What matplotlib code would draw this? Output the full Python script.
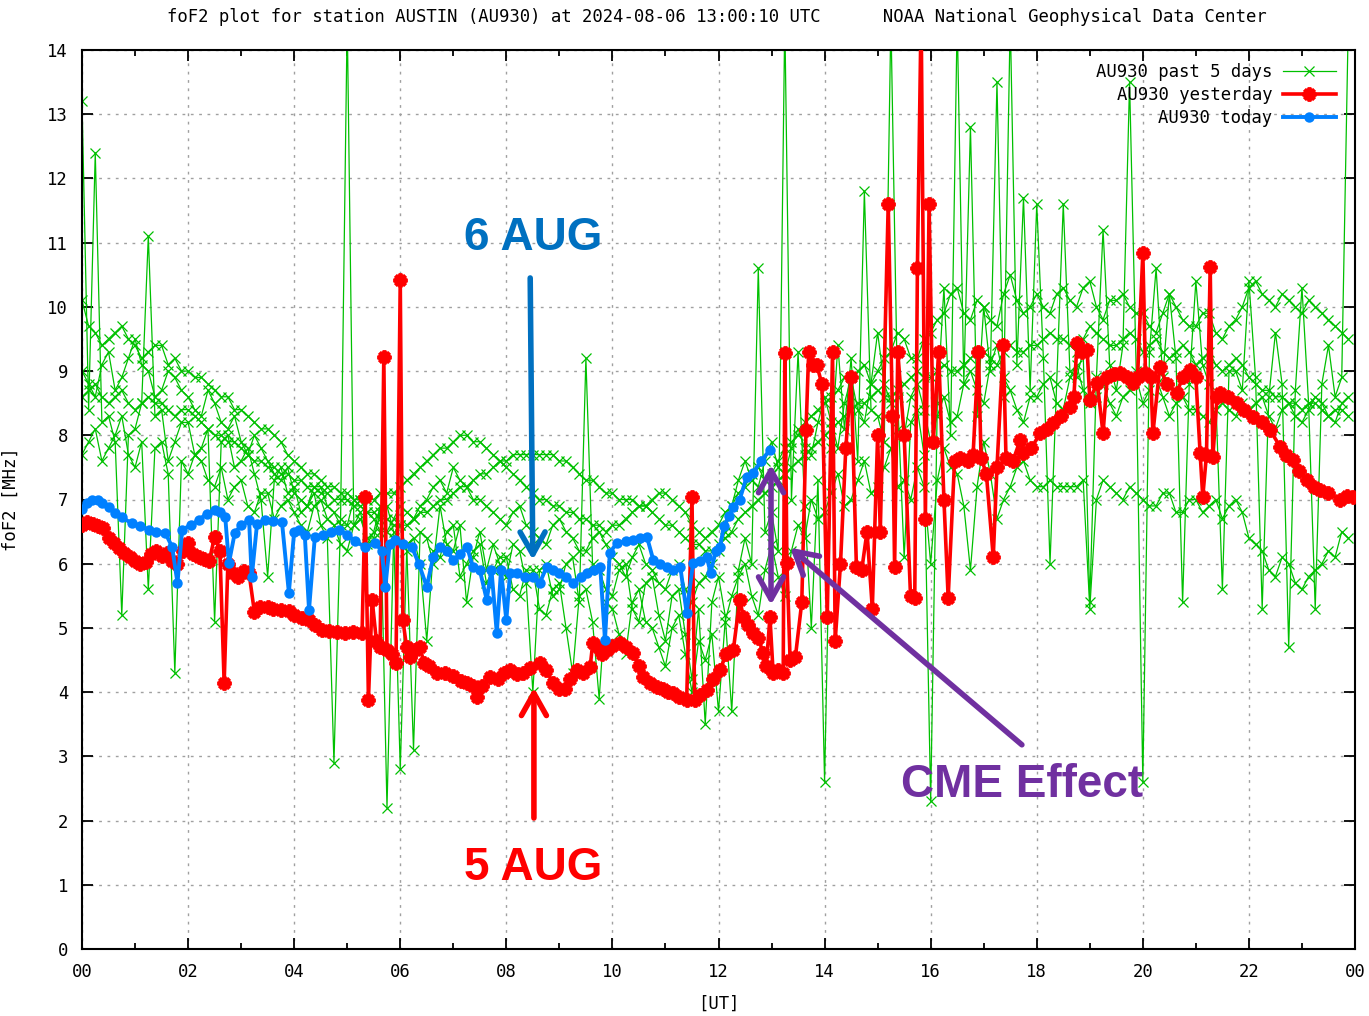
import numpy as np
import matplotlib
matplotlib.use("Agg")
import matplotlib.pyplot as plt

plt.rcParams['font.family'] = ['DejaVu Sans Mono']

# ---- past 5 days (7.5 min samples) ----
hours_7min = np.arange(192) * 0.125

day_a = [10.1, 9.7, 9.6, 9.4, 9.5, 9.6, 9.7, 9.5, 9.4, 9.2, 9.3, 9.4, 9.4, 9.1, 9.2, 9.0,
         9.0, 8.9, 8.9, 8.8, 8.7, 8.6, 8.6, 8.4, 8.4, 8.3, 8.2, 8.1, 8.1, 8.0, 7.9, 7.7,
         7.6, 7.5, 7.4, 7.4, 7.3, 7.2, 7.2, 7.1, 7.1, 7.0, 7.0, 7.0, 7.0, 7.1, 7.1, 7.1,
         7.2, 7.3, 7.4, 7.5, 7.6, 7.7, 7.8, 7.8, 7.9, 8.0, 8.0, 7.9, 7.9, 7.8, 7.7, 7.6,
         7.5, 7.4, 7.3, 7.2, 7.1, 7.0, 7.0, 6.9, 6.9, 6.8, 6.8, 6.7, 6.7, 6.6, 6.6, 6.5,
         6.6, 6.6, 6.7, 6.8, 6.9, 6.9, 7.0, 7.1, 7.1, 7.0, 6.9, 6.8, 6.6, 6.5, 6.4, 6.5,
         6.6, 6.8, 6.9, 7.1, 7.2, 7.4, 7.5, 7.3, 7.4, 7.6, 7.8, 7.9, 8.0, 8.2, 8.3, 8.4,
         8.5, 8.6, 8.7, 8.9, 8.9, 9.0, 9.1, 8.8, 9.0, 9.2, 9.3, 9.6, 9.5, 9.2, 9.2, 9.5,
         9.6, 9.8, 9.9, 10.2, 10.3, 9.9, 9.8, 10.1, 10.0, 9.8, 9.7, 10.2, 10.5, 10.1, 9.9, 10.0,
         10.2, 10.0, 9.9, 10.2, 10.3, 10.1, 10.0, 10.3, 10.4, 10.0, 9.8, 10.1, 10.1, 10.2, 10.0, 9.9,
         9.9, 9.7, 9.6, 9.9, 10.2, 10.0, 9.8, 9.7, 9.7, 9.9, 9.9, 9.6, 9.5, 9.7, 9.8, 10.0,
         10.3, 10.4, 10.2, 10.1, 10.0, 10.2, 10.1, 10.0, 9.9, 10.1, 10.0, 9.9, 9.8, 9.7, 9.6, 9.5]

day_b = [8.6, 8.7, 8.8, 8.6, 8.5, 8.6, 8.7, 8.5, 8.4, 8.5, 8.6, 8.5, 8.5, 8.4, 8.3, 8.4,
         8.4, 8.3, 8.2, 8.1, 8.0, 8.0, 7.9, 7.9, 7.8, 7.7, 7.6, 7.6, 7.5, 7.5, 7.4, 7.4,
         7.3, 7.3, 7.2, 7.2, 7.1, 7.1, 7.0, 7.0, 7.0, 6.9, 6.9, 6.8, 6.8, 6.7, 6.7, 6.6,
         6.6, 6.6, 6.7, 6.8, 6.8, 6.9, 7.0, 7.0, 7.1, 7.2, 7.2, 7.3, 7.4, 7.4, 7.5, 7.6,
         7.6, 7.7, 7.7, 7.7, 7.7, 7.7, 7.7, 7.7, 7.6, 7.6, 7.5, 7.4, 7.3, 7.3, 7.2, 7.1,
         7.1, 7.0, 7.0, 7.0, 6.9, 6.9, 6.8, 6.7, 6.6, 6.6, 6.5, 6.4, 6.3, 6.3, 6.2, 6.2,
         6.3, 6.4, 6.5, 6.7, 6.8, 6.9, 7.0, 7.1, 7.2, 7.3, 7.4, 7.5, 7.6, 7.7, 7.8, 7.9,
         8.0, 8.1, 8.2, 8.3, 8.4, 8.5, 8.5, 8.6, 8.7, 8.6, 8.6, 8.7, 8.8, 8.9, 9.0, 8.9,
         8.9, 9.0, 9.1, 9.0, 9.0, 9.1, 9.2, 9.3, 9.3, 9.2, 9.1, 9.3, 9.4, 9.3, 9.3, 9.4,
         9.4, 9.5, 9.6, 9.5, 9.5, 9.4, 9.3, 9.5, 9.7, 9.6, 9.5, 9.4, 9.4, 9.5, 9.6, 9.5,
         9.3, 9.4, 9.5, 9.3, 9.2, 9.3, 9.4, 9.3, 9.1, 9.2, 9.3, 9.1, 9.0, 9.1, 9.2, 9.1,
         8.9, 8.8, 8.7, 8.7, 8.6, 8.6, 8.5, 8.5, 8.4, 8.5, 8.5, 8.4, 8.3, 8.4, 8.4, 8.3]

day_c = [13.2, 8.4, 12.4, 8.2, 8.3, 7.9, 5.2, 8.0, 8.1, 8.5, 11.1, 8.3, 8.4, 7.6, 7.9, 8.2,
         8.2, 7.7, 7.8, 8.1, 5.1, 7.9, 8.0, 7.5, 7.6, 7.8, 7.4, 7.0, 5.8, 7.3, 7.5, 7.1,
         7.2, 6.8, 6.9, 7.1, 6.6, 6.4, 2.9, 6.7, 14.5, 6.6, 6.8, 6.3, 6.5, 6.9, 2.2, 6.4,
         6.6, 6.2, 3.1, 6.5, 6.4, 6.0, 6.9, 6.3, 6.2, 6.6, 5.4, 6.1, 6.5, 5.9, 6.3, 6.0,
         5.8, 6.3, 6.2, 5.7, 4.0, 5.9, 6.0, 5.5, 5.6, 6.0, 6.1, 5.4, 9.2, 6.0, 5.9, 5.6,
         5.5, 5.9, 6.0, 5.3, 5.1, 5.7, 5.8, 5.2, 4.8, 5.5, 5.6, 4.9, 4.2, 5.3, 3.5, 5.4,
         5.8, 5.2, 3.7, 5.9, 6.4, 6.0, 10.6, 6.5, 6.8, 6.2, 14.5, 7.0, 9.3, 6.9, 5.0, 7.3,
         2.6, 7.8, 9.4, 8.1, 9.2, 7.6, 11.8, 8.4, 8.3, 7.9, 14.5, 8.6, 6.1, 8.2, 8.4, 7.7,
         2.3, 8.5, 10.3, 8.0, 14.5, 8.8, 12.8, 8.3, 10.0, 9.0, 13.5, 8.6, 14.5, 9.1, 11.7, 8.7,
         11.6, 9.2, 6.0, 8.8, 11.6, 9.0, 8.9, 9.3, 5.4, 8.9, 11.2, 9.1, 8.7, 9.4, 13.5, 9.0,
         2.6, 9.3, 10.6, 8.9, 10.2, 9.2, 5.4, 8.8, 10.4, 9.1, 8.8, 8.6, 5.6, 9.0, 9.0, 8.7,
         10.4, 8.9, 5.3, 8.6, 9.6, 8.8, 4.7, 8.7, 10.3, 8.5, 5.3, 8.8, 9.4, 8.6, 8.9, 14.5]

day_d = [7.7, 7.9, 8.1, 7.6, 7.8, 8.0, 8.3, 7.7, 7.5, 7.9, 5.6, 7.8, 7.9, 7.4, 4.3, 7.6,
         7.4, 7.7, 7.6, 7.3, 7.2, 7.5, 7.0, 7.2, 7.3, 6.9, 6.8, 7.1, 7.1, 6.7, 6.9, 7.0,
         6.8, 6.6, 6.5, 6.9, 7.0, 6.7, 6.6, 6.3, 6.2, 6.6, 6.7, 6.4, 6.4, 6.8, 6.9, 6.5,
         2.8, 6.3, 6.4, 6.0, 4.8, 6.2, 6.1, 6.5, 6.6, 5.8, 6.0, 6.2, 6.3, 5.7, 5.9, 6.1,
         6.1, 5.6, 5.5, 5.9, 5.9, 5.3, 5.2, 5.6, 5.7, 5.0, 4.3, 5.5, 5.6, 5.1, 3.9, 5.4,
         5.3, 4.9, 4.6, 5.4, 5.6, 5.1, 5.0, 4.7, 4.4, 5.0, 5.2, 4.6, 4.0, 4.8, 4.5, 4.9,
         3.7, 5.1, 5.5, 5.8, 6.0, 5.5, 5.2, 5.9, 6.3, 5.8, 5.5, 6.2, 6.6, 6.4, 7.0, 6.7,
         6.8, 7.1, 7.4, 6.9, 7.0, 7.3, 7.6, 7.1, 7.2, 7.5, 7.8, 7.2, 7.3, 7.0, 7.5, 7.2,
         6.0, 7.3, 7.8, 7.5, 7.4, 6.9, 5.9, 7.2, 7.9, 7.4, 6.7, 7.0, 7.2, 7.5, 7.6, 7.3,
         7.2, 7.2, 7.3, 7.2, 7.2, 7.2, 7.2, 7.3, 5.3, 7.0, 7.3, 7.2, 7.1, 7.0, 7.2, 7.1,
         7.0, 6.9, 6.9, 7.1, 7.1, 6.8, 6.8, 7.0, 7.0, 6.8, 6.9, 7.0, 6.7, 6.9, 7.0, 6.8,
         6.4, 6.3, 6.2, 5.9, 5.8, 6.1, 6.0, 5.7, 5.6, 5.8, 5.9, 6.0, 6.2, 6.1, 6.5, 6.4]

day_e = [9.0, 8.8, 8.6, 9.1, 9.3, 8.7, 8.9, 9.2, 9.5, 9.1, 9.0, 8.6, 8.7, 9.0, 8.9, 8.7,
         8.6, 8.4, 8.3, 8.7, 8.5, 8.2, 8.1, 8.3, 7.9, 7.7, 8.0, 7.8, 7.6, 7.4, 7.3, 7.5,
         7.1, 7.0, 6.9, 7.2, 7.2, 6.9, 6.8, 6.6, 6.6, 7.0, 7.0, 6.8, 6.7, 6.5, 6.5, 6.7,
         6.9, 6.8, 6.7, 6.9, 7.0, 7.2, 7.3, 7.1, 7.5, 7.3, 7.2, 7.0, 7.0, 6.9, 6.8, 6.7,
         6.6, 6.8, 6.9, 6.6, 6.5, 6.4, 6.3, 6.6, 6.7, 6.5, 6.4, 6.2, 6.2, 6.4, 6.5, 6.3,
         6.1, 6.0, 5.8, 6.1, 6.3, 6.0, 5.9, 5.7, 5.6, 5.9, 6.0, 5.6, 5.4, 5.7, 5.8, 6.0,
         6.2, 6.5, 6.9, 7.3, 7.6, 7.3, 7.2, 7.6, 7.9, 7.5, 7.4, 7.8, 8.1, 7.8, 7.7, 8.2,
         8.6, 8.2, 7.8, 8.5, 8.9, 8.4, 8.2, 8.8, 9.6, 8.8, 8.5, 8.1, 8.0, 8.6, 8.8, 8.4,
         7.9, 8.3, 8.6, 8.2, 8.3, 8.8, 9.0, 8.7, 8.5, 9.1, 9.4, 8.9, 8.7, 8.4, 8.2, 8.6,
         8.6, 8.8, 8.9, 8.5, 8.4, 8.9, 9.1, 8.7, 8.5, 8.6, 8.8, 8.5, 8.3, 8.6, 8.7, 8.9,
         8.5, 8.7, 8.9, 8.6, 8.3, 8.5, 8.6, 8.4, 8.4, 8.3, 8.2, 8.4, 8.5, 8.4, 8.3, 8.5,
         8.4, 8.5, 8.6, 8.3, 8.1, 8.4, 8.5, 8.3, 8.2, 8.4, 8.6, 8.5, 8.3, 8.2, 8.5, 8.6]

past_days = [day_a, day_b, day_c, day_d, day_e]

# ---- yesterday (5 Aug) ----
red_t = [0.00, 0.10, 0.20, 0.30, 0.40, 0.50, 0.60, 0.70, 0.80, 0.90,
         1.00, 1.10, 1.20, 1.30, 1.40, 1.50, 1.60, 1.70, 1.80, 1.90,
         2.00, 2.10, 2.20, 2.30, 2.40, 2.50, 2.60, 2.68, 2.75, 2.85,
         2.95, 3.05, 3.15, 3.25, 3.35, 3.50, 3.60, 3.75, 3.90, 4.00,
         4.15, 4.28, 4.40, 4.52, 4.65, 4.80, 4.95, 5.10, 5.28, 5.34,
         5.40, 5.47, 5.55, 5.62, 5.69, 5.75, 5.85, 5.92, 6.00, 6.05,
         6.12, 6.18, 6.28, 6.37, 6.45, 6.55, 6.70, 6.85, 7.00, 7.15,
         7.26, 7.38, 7.45, 7.55, 7.69, 7.85, 7.95, 8.07, 8.20, 8.31,
         8.45, 8.63, 8.75, 8.88, 9.00, 9.10, 9.20, 9.33, 9.45, 9.58,
         9.63, 9.72, 9.80, 9.90, 10.00, 10.14, 10.25, 10.39, 10.50, 10.58,
         10.70, 10.84, 10.95, 11.05, 11.14, 11.25, 11.40, 11.50, 11.55, 11.65,
         11.78, 11.90, 12.03, 12.15, 12.28, 12.40, 12.47, 12.55, 12.65, 12.75,
         12.84, 12.90, 12.97, 13.03, 13.12, 13.22, 13.25, 13.29, 13.35, 13.45,
         13.57, 13.65, 13.70, 13.78, 13.85, 13.95, 14.05, 14.15, 14.20, 14.30,
         14.40, 14.50, 14.60, 14.70, 14.80, 14.90, 15.00, 15.05, 15.20, 15.28,
         15.32, 15.38, 15.50, 15.62, 15.70, 15.75, 15.82, 15.90, 15.97, 16.05,
         16.15, 16.25, 16.33, 16.45, 16.55, 16.70, 16.80, 16.90, 16.95, 17.05,
         17.18, 17.25, 17.37, 17.42, 17.55, 17.69, 17.75, 17.90, 18.06, 18.20,
         18.31, 18.45, 18.63, 18.70, 18.76, 18.85, 18.95, 19.00, 19.14, 19.25,
         19.33, 19.45, 19.57, 19.70, 19.81, 19.90, 20.00, 20.05, 20.15, 20.19,
         20.32, 20.45, 20.64, 20.75, 20.89, 21.00, 21.08, 21.13, 21.20, 21.27,
         21.32, 21.40, 21.46, 21.60, 21.78, 21.90, 22.08, 22.25, 22.40, 22.59,
         22.70, 22.83, 22.95, 23.10, 23.22, 23.34, 23.50, 23.72, 23.85, 23.96]
red_f = [6.60, 6.65, 6.62, 6.58, 6.55, 6.40, 6.32, 6.25, 6.17, 6.10,
         6.05, 6.00, 6.02, 6.15, 6.20, 6.12, 6.17, 6.05, 6.00, 6.20,
         6.32, 6.15, 6.10, 6.08, 6.05, 6.42, 6.20, 4.14, 6.00, 5.85,
         5.80, 5.88, 5.85, 5.25, 5.33, 5.33, 5.30, 5.28, 5.27, 5.20,
         5.15, 5.12, 5.05, 4.97, 4.95, 4.93, 4.92, 4.93, 4.92, 7.04,
         3.88, 5.44, 4.80, 4.70, 9.22, 4.66, 4.60, 4.45, 10.42, 5.12,
         4.70, 4.55, 4.65, 4.70, 4.45, 4.40, 4.30, 4.30, 4.25, 4.18,
         4.14, 4.10, 3.93, 4.10, 4.24, 4.20, 4.30, 4.35, 4.28, 4.30,
         4.38, 4.45, 4.35, 4.14, 4.05, 4.05, 4.20, 4.35, 4.30, 4.39,
         4.77, 4.70, 4.60, 4.66, 4.72, 4.77, 4.70, 4.61, 4.40, 4.24,
         4.15, 4.08, 4.05, 4.00, 3.99, 3.92, 3.88, 7.04, 3.88, 3.95,
         4.03, 4.20, 4.35, 4.60, 4.66, 5.44, 5.17, 5.05, 4.92, 4.85,
         4.61, 4.40, 5.17, 4.30, 4.35, 4.30, 9.28, 6.01, 4.50, 4.55,
         5.40, 8.08, 9.30, 9.10, 9.10, 8.80, 5.17, 9.30, 4.80, 6.00,
         7.80, 8.90, 5.95, 5.90, 6.50, 5.30, 8.00, 6.50, 11.60, 8.30,
         5.95, 9.30, 8.00, 5.50, 5.47, 10.60, 14.60, 6.70, 11.60, 7.90,
         9.30, 7.00, 5.47, 7.60, 7.65, 7.60, 7.70, 9.30, 7.65, 7.40,
         6.10, 7.50, 9.40, 7.65, 7.60, 7.93, 7.72, 7.80, 8.03, 8.10,
         8.19, 8.30, 8.44, 8.60, 9.44, 9.30, 9.33, 8.55, 8.82, 8.03,
         8.91, 8.95, 8.97, 8.90, 8.82, 8.90, 10.84, 8.97, 8.90, 8.03,
         9.07, 8.80, 8.66, 8.90, 9.02, 8.90, 7.72, 7.04, 7.70, 10.62,
         7.66, 8.60, 8.66, 8.60, 8.50, 8.40, 8.29, 8.20, 8.08, 7.82,
         7.70, 7.62, 7.45, 7.30, 7.20, 7.15, 7.10, 6.99, 7.05, 7.04]

# ---- today (6 Aug) ----
blue_t = [0.00, 0.10, 0.19, 0.30, 0.38, 0.50, 0.62, 0.75, 0.94, 1.10,
          1.26, 1.40, 1.57, 1.70, 1.80, 1.89, 2.05, 2.20, 2.35, 2.50,
          2.60, 2.70, 2.77, 2.88, 3.00, 3.15, 3.20, 3.30, 3.45, 3.60,
          3.77, 3.90, 4.00, 4.09, 4.20, 4.28, 4.39, 4.55, 4.70, 4.85,
          5.00, 5.15, 5.34, 5.53, 5.65, 5.72, 5.80, 5.90, 6.05, 6.22,
          6.35, 6.50, 6.62, 6.75, 6.88, 7.00, 7.13, 7.26, 7.37, 7.50,
          7.63, 7.72, 7.82, 7.90, 8.00, 8.07, 8.20, 8.35, 8.50, 8.63,
          8.76, 8.88, 9.00, 9.13, 9.26, 9.40, 9.52, 9.65, 9.77, 9.86,
          9.95, 10.08, 10.25, 10.39, 10.52, 10.65, 10.77, 10.90, 11.03, 11.15,
          11.28, 11.40, 11.52, 11.65, 11.78, 11.85, 11.95, 12.03, 12.10, 12.20,
          12.28, 12.40, 12.53, 12.65, 12.80, 12.97]
blue_f = [6.85, 6.95, 6.99, 7.00, 6.95, 6.88, 6.79, 6.72, 6.63, 6.58,
          6.53, 6.50, 6.48, 6.26, 5.70, 6.53, 6.60, 6.68, 6.78, 6.84,
          6.80, 6.73, 6.01, 6.48, 6.60, 6.68, 5.79, 6.62, 6.68, 6.66,
          6.65, 5.55, 6.50, 6.53, 6.45, 5.28, 6.42, 6.45, 6.50, 6.53,
          6.45, 6.35, 6.26, 6.32, 6.20, 5.64, 6.30, 6.37, 6.30, 6.26,
          6.00, 5.64, 6.10, 6.26, 6.20, 6.06, 6.15, 6.26, 5.95, 5.90,
          5.44, 5.90, 4.92, 5.90, 5.12, 5.86, 5.85, 5.80, 5.79, 5.70,
          5.95, 5.90, 5.86, 5.80, 5.70, 5.80, 5.86, 5.90, 5.95, 4.81,
          6.17, 6.32, 6.35, 6.37, 6.40, 6.42, 6.06, 6.00, 5.95, 5.90,
          5.95, 5.23, 6.01, 6.05, 6.10, 5.86, 6.20, 6.26, 6.58, 6.75,
          6.88, 7.00, 7.35, 7.41, 7.60, 7.77]

x_tick_labels = ["00", "02", "04", "06", "08", "10", "12",
                 "14", "16", "18", "20", "22", "00"]

title = ("foF2 plot for station AUSTIN (AU930) at 2024-08-06 13:00:10 UTC"
         "      NOAA National Geophysical Data Center")

GREEN = "#00c000"
RED = "#ff0000"
BLUE = "#0080ff"
FS = 12.4

fig = plt.figure(figsize=(13.69, 10.16), dpi=100)
ax = fig.add_axes([82 / 1369, 1 - 949 / 1016, 1273 / 1369, 899 / 1016])

green_lines = []
for day in past_days:
    ln, = ax.plot(hours_7min, day, color=GREEN, lw=0.9, marker="x", ms=7,
                  mew=0.9, zorder=2)
    green_lines.append(ln)

red_ln, = ax.plot(red_t, red_f, color=RED, lw=2.6, marker=(8, 2, 0), ms=10,
                  mew=2.8, zorder=3)
blue_ln, = ax.plot(blue_t, blue_f, color=BLUE, lw=2.8, marker="o", ms=7.5,
                   mew=0, zorder=4)

ax.set_xlim(0, 24)
ax.set_ylim(0, 14)
ax.set_xticks(np.arange(0, 25, 2))
ax.set_xticklabels(x_tick_labels)
ax.set_xticks(np.arange(1, 24, 2), minor=True)
ax.set_yticks(range(15))
ax.tick_params(which="major", direction="in", top=True, right=True,
               length=8, width=1.3, labelsize=FS, pad=10)
ax.tick_params(which="minor", direction="in", top=True, right=True,
               length=4.5, width=1.3)
ax.grid(True, which="major", color="#a0a0a0", linestyle=(0, (2, 4)), lw=1)
for sp in ax.spines.values():
    sp.set_linewidth(1.5)

fig.text(717 / 1369, 1 - 17 / 1016, title, ha="center", va="center",
         fontsize=FS)
ax.set_ylabel("foF2 [MHz]", fontsize=FS)
ax.yaxis.set_label_coords(-62 / 1273, 0.5)
ax.set_xlabel("[UT]", fontsize=FS)
ax.xaxis.set_label_coords(0.5, -46 / 899)

ax.legend([green_lines[0], red_ln, blue_ln],
          ["AU930 past 5 days", "AU930 yesterday", "AU930 today"],
          loc="upper right", bbox_to_anchor=(0.985, 0.985),
          frameon=False, markerfirst=False, handlelength=3.1,
          handletextpad=0.6, labelspacing=0.28, borderpad=0,
          borderaxespad=0, fontsize=FS, numpoints=1)

# ---- annotations ----
ann_font = dict(family="Liberation Sans", weight="bold", fontsize=33)
head = "->,head_length=0.8,head_width=0.45"
ax.text(8.5, 11.07, "6 AUG", color="#0070c0", ha="center", va="center",
        zorder=10, **ann_font)
ax.annotate("", xy=(8.5, 6.06), xytext=(8.45, 10.45),
            arrowprops=dict(arrowstyle=head, lw=4, color="#0070c0",
                            mutation_scale=20, shrinkA=0, shrinkB=0),
            zorder=10)
ax.text(8.5, 1.26, "5 AUG", color="#ff0000", ha="center", va="center",
        zorder=10, **ann_font)
ax.annotate("", xy=(8.52, 4.07), xytext=(8.52, 2.04),
            arrowprops=dict(arrowstyle=head, lw=4, color="#ff0000",
                            mutation_scale=20, shrinkA=0, shrinkB=0),
            zorder=10)
ax.text(17.72, 2.55, "CME Effect", color="#7030a0", ha="center",
        va="center", zorder=10, **ann_font)
ax.annotate("", xy=(13.35, 6.25), xytext=(17.72, 3.18),
            arrowprops=dict(arrowstyle=head, lw=4, color="#7030a0",
                            mutation_scale=20, shrinkA=0, shrinkB=0),
            zorder=10)
ax.annotate("", xy=(12.99, 7.54), xytext=(12.99, 5.36),
            arrowprops=dict(arrowstyle="<" + head, lw=4, color="#7030a0",
                            mutation_scale=20, shrinkA=0, shrinkB=0),
            zorder=10)

fig.savefig("out.png", dpi=100)
